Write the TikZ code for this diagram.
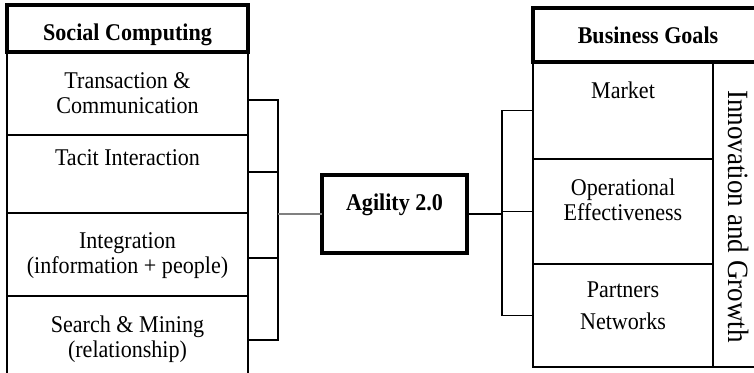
\documentclass[tikz,border=0pt]{standalone}
\usepackage{fontspec}
\setmainfont{Liberation Serif}[FakeStretch=0.92]
\begin{document}
\begin{tikzpicture}[x=1pt,y=-1pt,
  cell/.style={draw, line width=1.1pt, inner sep=0pt, outer sep=0pt, anchor=north west},
  headcell/.style={cell, line width=3.2pt},
  txt/.style={inner sep=0pt, anchor=base, align=center, font=\fontsize{24}{25}\selectfont},
  boldtxt/.style={txt, font=\fontsize{24}{25}\selectfont\bfseries},
  link/.style={line width=1.1pt},
  graylink/.style={line width=1.6pt, draw=black!50}]
\useasboundingbox (0,0) rectangle (754,372);

% Social Computing column
\node[cell, minimum width=241pt, minimum height=83pt] (tc) at (7,52) {};
\node[cell, minimum width=241pt, minimum height=78pt] (ti) at (7,135) {};
\node[cell, minimum width=241pt, minimum height=83pt] (ig) at (7,213) {};
\node[cell, minimum width=241pt, minimum height=90pt] (sm) at (7,296) {};
\draw[line width=2pt] (ig.north west) -- (ig.north east);
\node[headcell, minimum width=241pt, minimum height=47pt] (hl) at (7,5) {};

% multi-line labels sit on the baseline of their last line
\node[boldtxt] (hlt) at (127.5,40) {Social Computing};
\node[txt] (tct) at (127.5,113) {Transaction \&\\Communication};
\node[txt] (tit) at (127.5,165) {Tacit Interaction};
\node[txt] (igt) at (127.5,273) {Integration\\(information + people)};
\node[txt] (smt) at (127.5,357) {Search \& Mining\\(relationship)};

% Business Goals column
\node[cell, minimum width=180pt, minimum height=97pt] (mk) at (533,62) {};
\node[cell, minimum width=180pt, minimum height=105pt] (oe) at (533,159) {};
\node[cell, minimum width=180pt, minimum height=103pt] (pn) at (533,264) {};
\node[cell, minimum width=60pt, minimum height=305pt] (ing) at (713,62) {};
\node[headcell, minimum width=240pt, minimum height=54pt] (hr) at (533,8) {};

\node[boldtxt] (hrt) at (648,43) {Business Goals};
\node[txt] (mkt) at (623,98) {Market};
\node[txt] (oet) at (623,220) {Operational\\Effectiveness};
\node[txt] (pnt) at (623,329) {Partners\\[7pt]Networks};
\node[txt, font=\fontsize{29.4}{31}\selectfont, rotate=-90] (ingt) at (728,216.5) {Innovation and Growth};

% Centre box
\node[cell, anchor=center, line width=3.2pt, minimum width=145pt, minimum height=78pt] (ag) at (394.5,214) {};
\node[boldtxt] (agt) at (394.5,210) {Agility 2.0};

% Left bracket
\coordinate (l1) at (278,100);
\coordinate (l2) at (278,172);
\coordinate (l3) at (278,258);
\coordinate (l4) at (278,340);
\draw[link] (tc.east |- l1) -- (l1) -- (l4) -- (sm.east |- l4);
\draw[link] (ti.east |- l2) -- (l2);
\draw[link] (ig.east |- l3) -- (l3);
\draw[graylink] (ag.west -| l1) -- (ag.west);

% Right bracket
\coordinate (r0) at (502,0);
\draw[link] (mk.west) -- (mk.west -| r0) -- (pn.west -| r0) -- (pn.west);
\draw[link] (oe.west -| r0) -- (oe.west);
\draw[link] (ag.east) -- (ag.east -| r0);
\end{tikzpicture}
\end{document}
